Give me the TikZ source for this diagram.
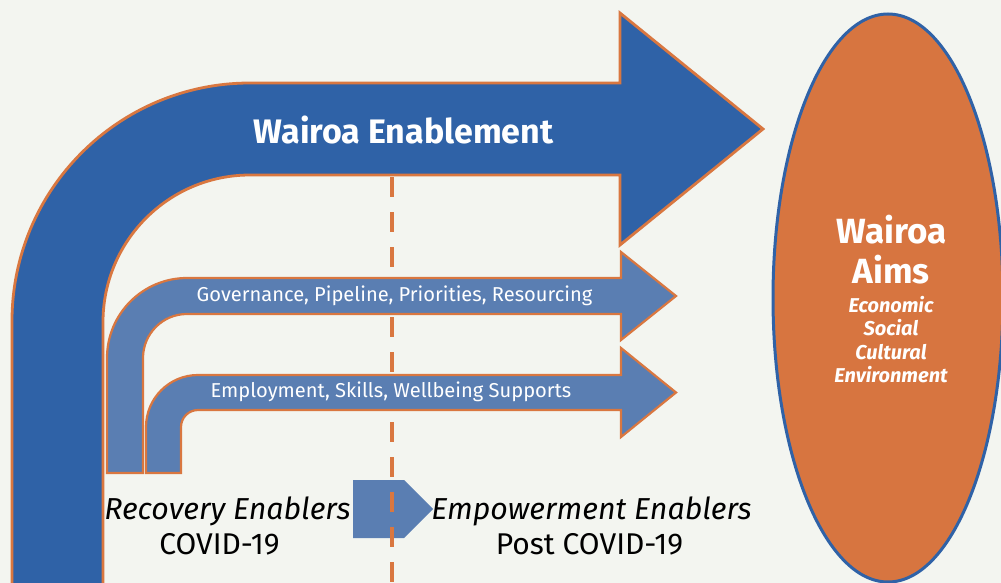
\documentclass[tikz,border=0pt]{standalone}
\usepackage{fontspec}
\setmainfont{Fira Sans}
\usetikzlibrary{shapes.geometric}
\definecolor{bg}{RGB}{243,245,240}
\definecolor{darkblue}{RGB}{47,98,167}
\definecolor{lightblue}{RGB}{90,126,178}
\definecolor{orangeline}{RGB}{217,119,64}
\definecolor{aimsfill}{RGB}{215,117,64}
\begin{document}
\begin{tikzpicture}[x=1pt,y=-1pt,
  bigarrow/.style={fill=darkblue,draw=orangeline,line width=2.8pt,line join=miter},
  smallarrow/.style={fill=lightblue,draw=orangeline,line width=2.2pt,line join=miter},
  pentarrow/.style={fill=lightblue},
  divider/.style={draw=orangeline,line width=4.5pt,dash pattern=on 20pt off 15pt},
  aimsshape/.style={ellipse,fill=aimsfill,draw=darkblue,line width=3pt,minimum width=230pt,minimum height=568pt,inner sep=0pt},
  titletext/.style={anchor=base,inner sep=0pt,text=white,font=\fontsize{34}{40}\selectfont\bfseries},
  aimstitle/.style={anchor=base,inner sep=0pt,text=white,font=\fontsize{35}{40}\selectfont\bfseries},
  bandtext/.style={anchor=base,inner sep=0pt,text=white,font=\fontsize{20.1}{24}\selectfont},
  phasetext/.style={anchor=base,inner sep=0pt,text=black,font=\fontsize{30.3}{34}\selectfont\itshape},
  subtext/.style={anchor=base,inner sep=0pt,text=black,font=\fontsize{30}{34}\selectfont},
  aimitem/.style={anchor=base,inner sep=0pt,text=white,font=\fontsize{20}{24}\selectfont\bfseries\itshape}]
\fill[bg] (0,0) rectangle (1001,583);
\useasboundingbox (0,0) rectangle (1001,583);
\clip (0,0) rectangle (1001,583);
% phase pentagon
\fill[pentarrow] (353,480) -- (404,480) -- (433,509) -- (404,538) -- (353,538) -- cycle;
% dashed divider
\coordinate (divtop) at (392,177);
\coordinate (divbot) at (392,600);
\draw[divider] (divtop) -- (divbot);
% big bent arrow
\draw[bigarrow] (12,600) -- (12,321) arc[start angle=180,end angle=270,radius=238]
  -- (620,83) -- (620,13) -- (763,129) -- (620,245) -- (620,175) -- (250,175)
  arc[start angle=270,end angle=180,radius=147] -- (103,600) -- cycle;
% governance arrow
\draw[smallarrow] (107,473) -- (107,358) arc[start angle=180,end angle=270,radius=80]
  -- (621,278) -- (621,252) -- (676,296) -- (621,340) -- (621,314) -- (187,314)
  arc[start angle=270,end angle=180,radius=44] -- (143,473) -- cycle;
% employment arrow
\draw[smallarrow] (146,473) -- (146,427) arc[start angle=180,end angle=270,radius=52]
  -- (621,375) -- (621,348) -- (676,392.5) -- (621,437) -- (621,410) -- (198,410)
  arc[start angle=270,end angle=180,radius=17] -- (181,473) -- cycle;
% aims ellipse
\node[aimsshape] (aims) at (888,298) {};
% texts
\node[titletext] (enable) at (403.5,143) {Wairoa Enablement};
\node[bandtext] (gov) at (394.5,301) {Governance, Pipeline, Priorities, Resourcing};
\node[bandtext] (emp) at (391,397) {Employment, Skills, Wellbeing Supports};
\node[phasetext] (rec) at (227.5,519) {Recovery Enablers};
\node[subtext] (covid) at (219.5,554) {COVID-19};
\node[phasetext] (empw) at (591.5,519) {Empowerment Enablers};
\node[subtext] (post) at (589.5,554) {Post COVID-19};
\node[aimstitle] (aimsA) at (891.5,243) {Wairoa};
\node[aimstitle] (aimsB) at (891,283) {Aims};
\node[aimitem] (econ) at (891,312) {Economic};
\node[aimitem] (soc) at (891,335.5) {Social};
\node[aimitem] (cult) at (891,359) {Cultural};
\node[aimitem] (env) at (891,382.5) {Environment};
\end{tikzpicture}
\end{document}
